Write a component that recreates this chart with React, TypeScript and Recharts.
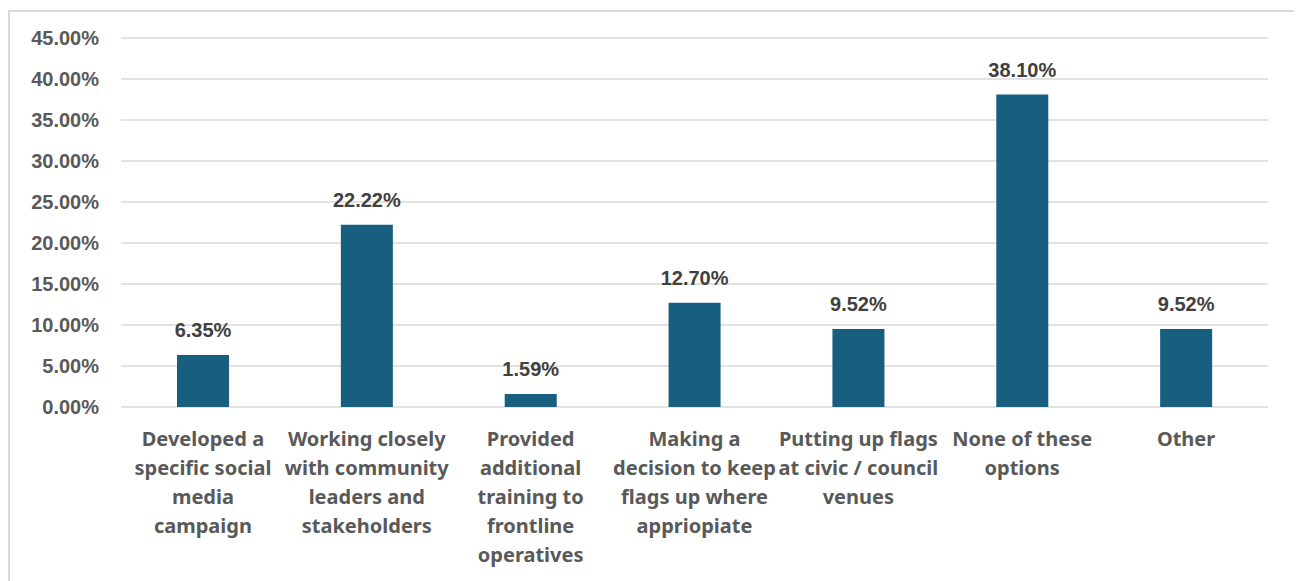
import React from 'react';
import { BarChart, Bar, XAxis, YAxis, CartesianGrid, LabelList } from 'recharts';

const categories = [
    'Developed a\nspecific social\nmedia\ncampaign',
    'Working closely\nwith community\nleaders and\nstakeholders',
    'Provided\nadditional\ntraining to\nfrontline\noperatives',
    'Making a\ndecision to keep\nflags up where\nappriopiate',
    'Putting up flags\nat civic / council\nvenues',
    'None of these\noptions',
    'Other',
];
const shares = [6.35, 22.22, 1.59, 12.7, 9.52, 38.1, 9.52];
const yTicks = [0, 5, 10, 15, 20, 25, 30, 35, 40, 45];

const data = categories.map((label, i) => ({ label, value: shares[i] }));

const BAR = '#175e7f';
const GRID = '#d9d9d9';

const CategoryTick = ({ x, y, payload }: any) => {
    const lines = String(payload.value).split('\n');
    return (
        <text
            x={x}
            y={y}
            textAnchor="middle"
            fill="#595959"
            fontSize={20}
            fontWeight="bold"
            fontFamily="'Noto Sans', sans-serif"
        >
            {lines.map((line, i) => (
                <tspan key={i} x={x} dy={i === 0 ? 31 : 29}>{line}</tspan>
            ))}
        </text>
    );
};

const App: React.FC = () => {
    return (
        <div style={{ marginTop: 2, width: 1284, height: 600, border: `2px solid ${GRID}`, borderBottom: 'none', background: '#fff' }}>
            <BarChart
                width={1284}
                height={590}
                data={data}
                margin={{ top: 26, right: 26, bottom: 15, left: 0 }}
            >
                <CartesianGrid vertical={false} stroke={GRID} strokeWidth={1.5} />
                <XAxis
                    dataKey="label"
                    interval={0}
                    axisLine={false}
                    tickLine={false}
                    height={180}
                    tick={<CategoryTick />}
                />
                <YAxis
                    width={111}
                    domain={[0, 45]}
                    ticks={yTicks}
                    axisLine={false}
                    tickLine={false}
                    tickSize={0}
                    tickMargin={22}
                    tickFormatter={(v: number) => `${v.toFixed(2)}%`}
                    tick={{ fill: '#595959', fontSize: 20, fontWeight: 'bold', fontFamily: "'Liberation Sans', Arial, sans-serif" }}
                />
                <Bar dataKey="value" fill={BAR} barSize={52} isAnimationActive={false}>
                    <LabelList
                        dataKey="value"
                        position="top"
                        offset={18}
                        formatter={(v: any) => `${Number(v).toFixed(2)}%`}
                        fill="#404040"
                        fontSize={20}
                        fontWeight="bold"
                        fontFamily="'Liberation Sans', Arial, sans-serif"
                    />
                </Bar>
            </BarChart>
        </div>
    );
};

export default App;
